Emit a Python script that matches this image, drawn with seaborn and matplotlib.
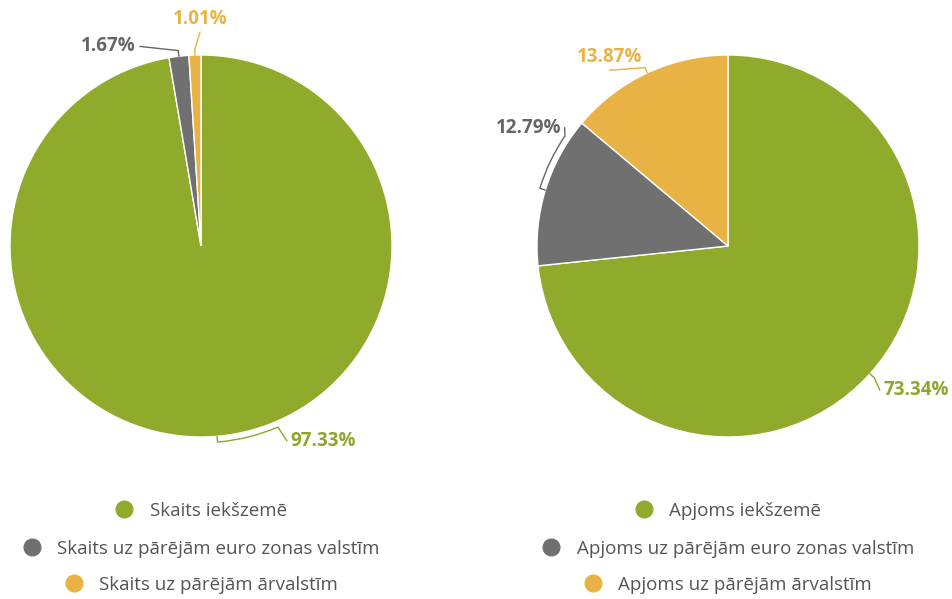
import numpy as np
import matplotlib
matplotlib.use("Agg")
import matplotlib.pyplot as plt
from matplotlib.lines import Line2D
from matplotlib.patches import Arc
import seaborn as sns

# data
count_labels = ["Skaits iekšzemē", "Skaits uz pārējām euro zonas valstīm",
                "Skaits uz pārējām ārvalstīm"]
count_values = [97.33, 1.67, 1.01]
volume_labels = ["Apjoms iekšzemē", "Apjoms uz pārējām euro zonas valstīm",
                 "Apjoms uz pārējām ārvalstīm"]
volume_values = [73.34, 12.79, 13.87]
colors = ["#90aa2c", "#707070", "#e9b244"]
text_colors = ["#8ea62b", "#666666", "#e9b244"]

sns.set_theme(style="white")
plt.rcParams["font.family"] = ["Open Sans", "DejaVu Sans"]

W, H = 952, 599
fig = plt.figure(figsize=(W / 100, H / 100), dpi=100)

R_PX = 191


def pie_axes(cx, cy):
    return fig.add_axes([(cx - R_PX) / W, (H - cy - R_PX) / H,
                         2 * R_PX / W, 2 * R_PX / H])


# label placement: (x, y, ha, arc_end_angle or None)
count_layout = [(0.47, -1.02, "left", -67.0),
                (-0.34, 1.045, "right", None),
                (-0.005, 1.19, "center", None)]
volume_layout = [(0.815, -0.755, "left", None),
                 (-0.875, 0.62, "right", 146.0),
                 (-0.62, 0.99, "center", None)]


def draw_pie(ax, values, layout):
    wedges, _ = ax.pie(values, colors=colors, startangle=90, counterclock=False,
                       radius=1.0, wedgeprops=dict(edgecolor="white", linewidth=1))
    ax.set_xlim(-1, 1)
    ax.set_ylim(-1, 1)
    ax.set_aspect("equal")
    ax.axis("off")
    for w, v, tc, (lx, ly, ha, arc_end) in zip(wedges, values, text_colors, layout):
        mid_deg = (w.theta1 + w.theta2) / 2
        mid = np.deg2rad(mid_deg)
        rr = 1.03
        p0 = (np.cos(mid), np.sin(mid))
        p1 = (rr * np.cos(mid), rr * np.sin(mid))
        ax.plot([p0[0], p1[0]], [p0[1], p1[1]], color=tc, lw=1, clip_on=False)
        start = p1
        if arc_end is not None:
            a0 = ((mid_deg - arc_end + 180) % 360) - 180 + arc_end
            ax.add_patch(Arc((0, 0), 2 * rr, 2 * rr, theta1=min(a0, arc_end),
                             theta2=max(a0, arc_end), color=tc, lw=1, clip_on=False))
            e = np.deg2rad(arc_end)
            start = (rr * np.cos(e), rr * np.sin(e))
        dx = 0.02 if ha == "left" else (-0.02 if ha == "right" else 0)
        dy = 0.0 if ha != "center" else -0.07
        ax.plot([start[0], lx - dx], [start[1], ly + dy], color=tc, lw=1, clip_on=False)
        ax.text(lx, ly, f"{v:.2f}%", ha=ha, va="center", color=tc,
                fontsize=13.5, fontweight="bold", clip_on=False)


ax1 = pie_axes(201, 246)
draw_pie(ax1, count_values, count_layout)
ax2 = pie_axes(728, 246)
draw_pie(ax2, volume_values, volume_layout)

# legends: one centered row per entry
rows_y = [511, 549, 585]
for cx, labels in [(201, count_labels), (728, volume_labels)]:
    for lab, col, y in zip(labels, colors, rows_y):
        h = Line2D([], [], marker="o", linestyle="", markersize=12,
                   markerfacecolor=col, markeredgecolor=col)
        fig.legend([h], [lab], loc="center", bbox_to_anchor=(cx / W, 1 - y / H),
                   frameon=False, fontsize=13.5, handletextpad=0.85,
                   labelcolor="#555555", borderpad=0, handlelength=1.0)

fig.savefig("out.png", dpi=100)
